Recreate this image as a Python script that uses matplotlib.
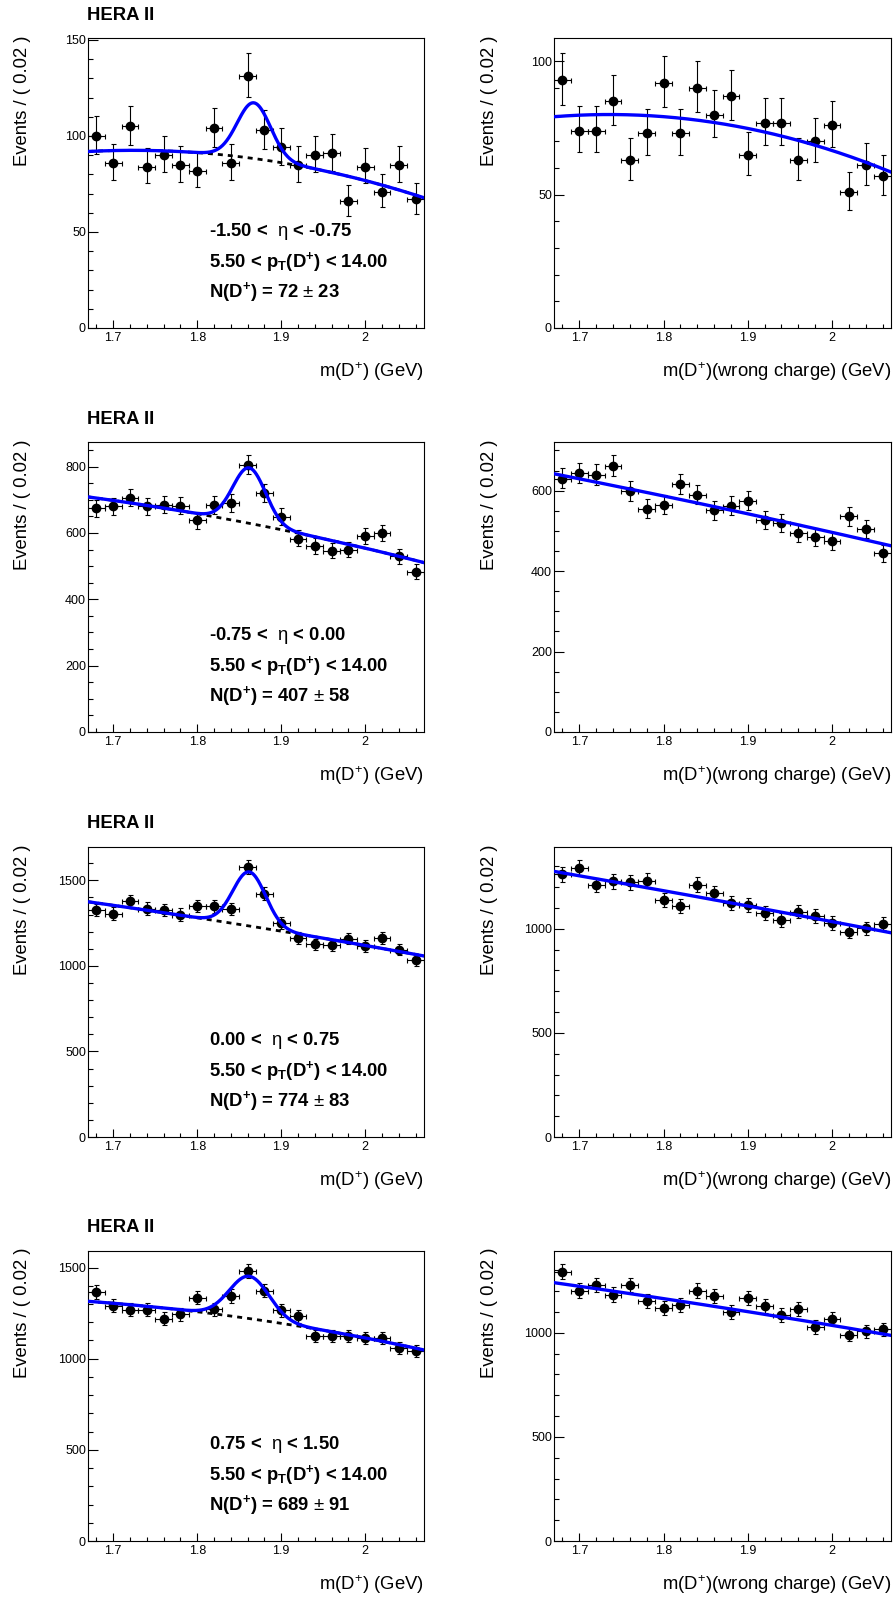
import numpy as np
import matplotlib
matplotlib.use("Agg")
import matplotlib.pyplot as plt
from matplotlib.ticker import MultipleLocator, FormatStrFormatter

plt.rcParams["font.family"] = ["Liberation Sans", "DejaVu Sans"]
plt.rcParams["mathtext.fontset"] = "custom"
plt.rcParams["mathtext.rm"] = "Liberation Sans"
plt.rcParams["mathtext.bf"] = "Liberation Sans:bold"
plt.rcParams["mathtext.it"] = "Liberation Sans:italic"

# bin centres, m(D+) in GeV, bin width 0.02
mass = [1.68, 1.70, 1.72, 1.74, 1.76, 1.78, 1.80, 1.82, 1.84, 1.86,
        1.88, 1.90, 1.92, 1.94, 1.96, 1.98, 2.00, 2.02, 2.04, 2.06]

# right charge candidates, one list per eta bin
rs_eta1 = [100, 86, 105, 84, 90, 85, 82, 104, 86, 131,
           103, 94, 85, 90, 91, 66, 84, 71, 85, 67]
rs_eta2 = [674, 680, 706, 680, 685, 682, 638, 684, 690, 806,
           719, 648, 583, 560, 547, 549, 590, 600, 529, 483]
rs_eta3 = [1325, 1305, 1379, 1334, 1325, 1299, 1350, 1348, 1331, 1578,
           1422, 1251, 1163, 1126, 1120, 1159, 1116, 1163, 1095, 1033]
rs_eta4 = [1366, 1290, 1268, 1268, 1220, 1244, 1335, 1271, 1344, 1480,
           1374, 1266, 1233, 1123, 1125, 1123, 1114, 1114, 1059, 1043]

# wrong charge candidates
ws_eta1 = [93, 74, 74, 85, 63, 73, 92, 73, 90, 80,
           87, 65, 77, 77, 63, 70, 76, 51, 61, 57]
ws_eta2 = [630, 643, 640, 662, 598, 555, 565, 617, 590, 551,
           563, 575, 526, 519, 494, 484, 475, 536, 505, 444]
ws_eta3 = [1262, 1294, 1209, 1228, 1223, 1231, 1140, 1108, 1212, 1172,
           1125, 1116, 1075, 1042, 1083, 1061, 1027, 987, 1002, 1024]
ws_eta4 = [1291, 1202, 1229, 1182, 1229, 1150, 1120, 1133, 1202, 1174,
           1099, 1165, 1126, 1083, 1115, 1026, 1067, 990, 1006, 1016]

rs_counts = [rs_eta1, rs_eta2, rs_eta3, rs_eta4]
ws_counts = [ws_eta1, ws_eta2, ws_eta3, ws_eta4]

eta_ranges = [("-1.50", "-0.75"), ("-0.75", "0.00"), ("0.00", "0.75"), ("0.75", "1.50")]
n_dplus = ["72", "407", "774", "689"]
n_dplus_err = ["23", "58", "83", "91"]

# fit results: gaussian peak + quadratic background in (m - 1.87)
sig_mean = [1.8675, 1.862, 1.862, 1.862]
sig_width = [0.0198, 0.0195, 0.0195, 0.0237]
sig_amp = [29, 167, 316, 232]
rs_bkg = [(88.1, -60.25, -206), (625, -495, -387), (1227, -792.5, -262.5), (1215, -667.5, -837)]
ws_bkg = [(76.6, -51.9, -193), (556, -447.5, -87.5), (1132, -737.5, -87.5), (1120, -632.5, -162)]

rs_ymax = [151, 874, 1695, 1591]
ws_ymax = [108.8, 721, 1393, 1392]
rs_ystep = [50, 200, 500, 500]
ws_ystep = [50, 200, 500, 500]
rs_yminor = [10, 50, 100, 100]
ws_yminor = [10, 50, 100, 100]


def poisson_err(n):
    n = np.asarray(n, float)
    return np.sqrt(n + 0.25) - 0.5, np.sqrt(n + 0.25) + 0.5


def quad(c, x):
    t = x - 1.87
    return c[0] + c[1] * t + c[2] * t ** 2


def style_axes(ax, ymax, step, minor):
    ax.set_xlim(1.67, 2.07)
    ax.set_ylim(0, ymax)
    ax.xaxis.set_major_locator(MultipleLocator(0.1))
    ax.xaxis.set_minor_locator(MultipleLocator(0.02))
    ax.xaxis.set_major_formatter(FormatStrFormatter("%g"))
    ax.yaxis.set_major_locator(MultipleLocator(step))
    ax.yaxis.set_minor_locator(MultipleLocator(minor))
    ax.yaxis.set_major_formatter(FormatStrFormatter("%g"))
    ax.tick_params(axis="x", which="major", direction="in", length=5.8, width=0.8, pad=3, labelsize=9)
    ax.tick_params(axis="x", which="minor", direction="in", length=2.6, width=0.8)
    ax.tick_params(axis="y", which="major", direction="in", length=7.2, width=0.8, pad=1.5, labelsize=9)
    ax.tick_params(axis="y", which="minor", direction="in", length=3.6, width=0.8)
    for s in ax.spines.values():
        s.set_linewidth(0.8)


W, H = 894, 1599
fig = plt.figure(figsize=(W / 100, H / 100), dpi=100)

row_tops = [38, 442, 847, 1251]
col_lefts = [88, 554]
col_widths = [336, 337]
ax_h = 290

xf = np.linspace(1.67, 2.07, 500)

for i in range(4):
    top = row_tops[i]
    for j in range(2):
        left = col_lefts[j]
        ax = fig.add_axes([left / W, 1 - (top + ax_h) / H, col_widths[j] / W, ax_h / H])
        if j == 0:
            counts = rs_counts[i]
        else:
            counts = ws_counts[i]
        lo, hi = poisson_err(counts)
        ax.errorbar(mass, counts, yerr=[lo, hi], xerr=0.01, fmt="o", color="black",
                    ms=6, elinewidth=0.8, capsize=1.8, capthick=0.8, zorder=3)

        if j == 0:
            bkg = quad(rs_bkg[i], xf)
            total = bkg + sig_amp[i] * np.exp(-0.5 * ((xf - sig_mean[i]) / sig_width[i]) ** 2)
            ax.plot(xf, bkg, color="black", lw=2.0, ls=(0, (1.8, 1.8)), zorder=4)
            ax.plot(xf, total, color="#0000ff", lw=2.4, zorder=5)
            style_axes(ax, rs_ymax[i], rs_ystep[i], rs_yminor[i])

            lo_e, hi_e = eta_ranges[i]
            ax.text(0.36, 0.334, lo_e + r" <  $\mathrm{\eta}$ < " + hi_e, transform=ax.transAxes,
                    fontsize=13.3, fontweight="bold", va="center", ha="left")
            ax.text(0.36, 0.228, r"5.50 < p$_\mathbf{T}$(D$^\mathbf{+}$) < 14.00", transform=ax.transAxes,
                    fontsize=13.3, fontweight="bold", va="center", ha="left")
            ax.text(0.36, 0.125, r"N(D$^\mathbf{+}$) = " + n_dplus[i] + r" $\pm$ " + n_dplus_err[i],
                    transform=ax.transAxes, fontsize=13.3, fontweight="bold", va="center", ha="left")
            fig.text(87 / W, 1 - (top - 23) / H, "HERA II", fontsize=13.3, fontweight="bold",
                     ha="left", va="center")
            xlab = r"m(D$^\mathrm{+}$) (GeV)"
        else:
            fit = quad(ws_bkg[i], xf)
            ax.plot(xf, fit, color="#0000ff", lw=2.4, zorder=5)
            style_axes(ax, ws_ymax[i], ws_ystep[i], ws_yminor[i])
            xlab = r"m(D$^\mathrm{+}$)(wrong charge) (GeV)"

        right = left + col_widths[j]
        fig.text(right / W, 1 - (top + ax_h + 44) / H, xlab, fontsize=13.3, ha="right", va="center")
        fig.text((left - 65) / W, 1 - (top - 3) / H, "Events / ( 0.02 )", fontsize=13.3,
                 rotation=90, ha="center", va="top")

fig.savefig("out.png", dpi=100)
